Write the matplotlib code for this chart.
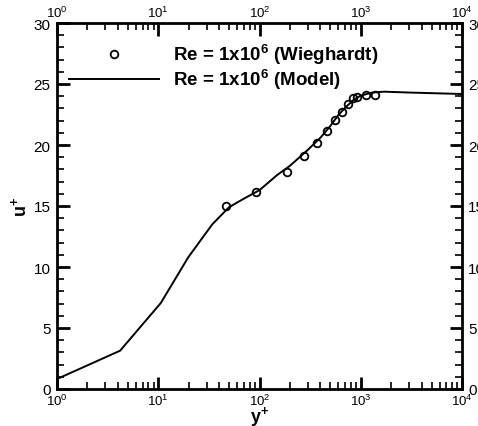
import numpy as np
import matplotlib
matplotlib.use("Agg")
import matplotlib.pyplot as plt
from matplotlib.ticker import LogLocator, MultipleLocator, NullFormatter

plt.rcParams['font.family'] = ['Liberation Sans', 'DejaVu Sans']
plt.rcParams['mathtext.fontset'] = 'custom'
plt.rcParams['mathtext.rm'] = 'Liberation Sans'
plt.rcParams['mathtext.it'] = 'Liberation Sans:italic'
plt.rcParams['mathtext.bf'] = 'Liberation Sans:bold'

# experiment (Wieghardt), Re = 1e6
yp_exp = [46.7, 92.3, 185, 277, 373, 464, 557, 653, 743, 838, 925, 1119, 1393]
up_exp = [15.0, 16.17, 17.76, 19.1, 20.14, 21.12, 22.02, 22.7, 23.33, 23.85, 23.96, 24.07, 24.12]

# model curve
yp_mod = [1, 4.2, 10.6, 19.8, 34.2, 50, 70, 100, 150, 200, 300, 400, 500, 600,
          700, 850, 1000, 1300, 1700, 3000, 10000]
up_mod = [0.82, 3.14, 7.05, 10.8, 13.5, 14.9, 15.6, 16.3, 17.55, 18.3, 19.6, 20.6,
          21.55, 22.45, 23.05, 23.7, 24.05, 24.3, 24.37, 24.3, 24.18]

fig = plt.figure(figsize=(4.78, 4.27), dpi=100)
ax = fig.add_axes([57 / 478, 1 - 390 / 427, 405 / 478, 366 / 427])

ax.plot(yp_exp, up_exp, 'o', ms=5.5, mfc='none', mec='black', mew=1.3,
        label=r'Re = 1x10$^\mathbf{6}$ (Wieghardt)')
ax.plot(yp_mod, up_mod, '-', color='black', lw=1.4,
        label=r'Re = 1x10$^\mathbf{6}$ (Model)')

ax.set_xscale('log')
ax.set_xlim(1, 1e4)
ax.set_ylim(0, 30)
ax.xaxis.set_major_locator(LogLocator(base=10, numticks=10))
ax.xaxis.set_minor_locator(LogLocator(base=10, subs=np.arange(2, 10), numticks=10))
ax.xaxis.set_minor_formatter(NullFormatter())
ax.yaxis.set_major_locator(MultipleLocator(5))
ax.yaxis.set_minor_locator(MultipleLocator(1))

for s in ax.spines.values():
    s.set_linewidth(2)
ax.tick_params(which='both', direction='in', top=True, right=True,
               labeltop=True, labelright=True)
ax.tick_params(axis='x', labelsize=9.5, pad=2.5)
ax.tick_params(axis='y', labelsize=11, pad=4.5)
ax.tick_params(which='major', length=9, width=2)
ax.tick_params(which='minor', length=5, width=1.2)

ax.set_xlabel(r'y$^\mathbf{+}$', fontsize=13, fontweight='bold', labelpad=-3)
ax.set_ylabel(r'u$^\mathbf{+}$', fontsize=13, fontweight='bold', labelpad=3)

leg = ax.legend(loc='upper left', bbox_to_anchor=(12 / 405, 1 - 19 / 366),
                frameon=False, borderpad=0, borderaxespad=0,
                handlelength=4.8, handletextpad=0.75, labelspacing=0.05,
                prop={'size': 13.5, 'weight': 'bold'})

fig.savefig('out.png', dpi=100)
